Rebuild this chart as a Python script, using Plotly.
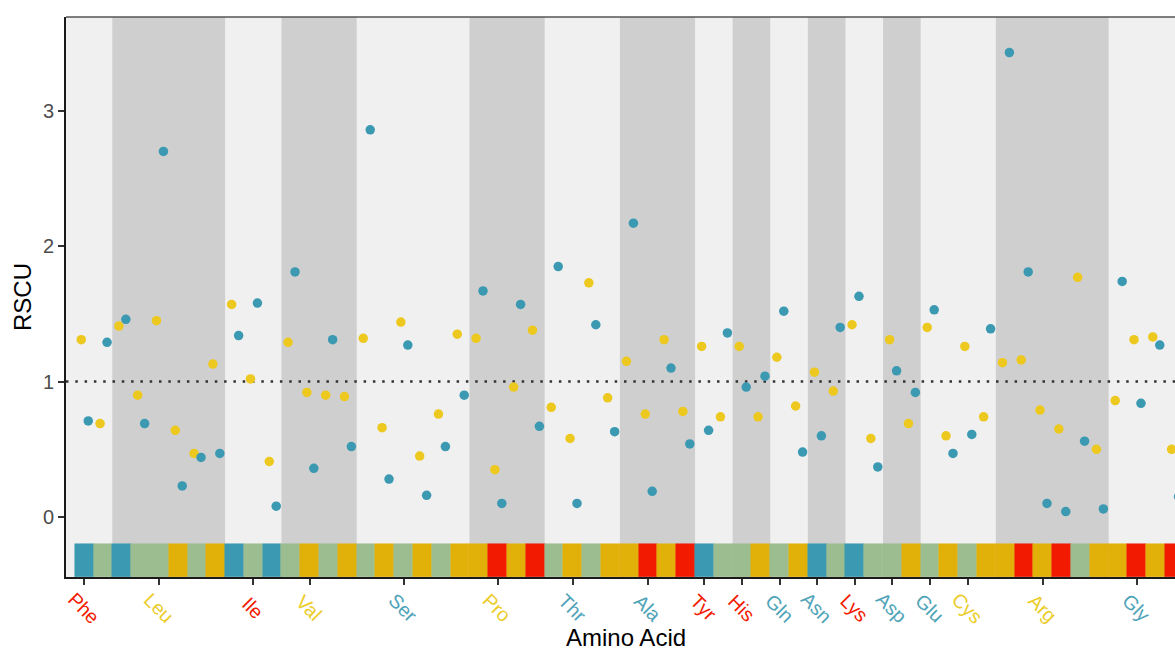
import numpy as np
import plotly.graph_objects as go

# ---------------- data ----------------
amino_acids = ["Phe", "Leu", "Ile", "Val", "Ser", "Pro", "Thr", "Ala", "Tyr",
               "His", "Gln", "Asn", "Lys", "Asp", "Glu", "Cys", "Arg", "Gly"]
codons_per_aa = [2, 6, 3, 4, 6, 4, 4, 4, 2, 2, 2, 2, 2, 2, 2, 2, 6, 4]
label_class = ["R", "Y", "R", "Y", "T", "Y", "T", "T", "R",
               "R", "T", "T", "R", "T", "T", "Y", "Y", "T"]
dark_band = [0, 1, 0, 1, 0, 1, 0, 1, 0, 1, 0, 1, 0, 1, 0, 0, 1, 0]

strip_class = ["T", "G", "T", "G", "G", "Y", "G", "Y", "T", "G",
               "T", "G", "Y", "G", "Y", "G", "Y", "G", "Y", "G",
               "Y", "Y", "R", "Y", "R", "G", "Y", "G", "Y", "Y",
               "R", "Y", "R", "T", "G", "G", "Y", "G", "Y", "T",
               "G", "T", "G", "G", "Y", "G", "Y", "G", "Y", "Y",
               "R", "Y", "R", "G", "Y", "Y", "R", "Y", "R"]

rscu_yellow = [1.31, 0.69,
               1.41, 0.90, 1.45, 0.64, 0.47, 1.13,
               1.57, 1.02, 0.41,
               1.29, 0.92, 0.90, 0.89,
               1.32, 0.66, 1.44, 0.45, 0.76, 1.35,
               1.32, 0.35, 0.96, 1.38,
               0.81, 0.58, 1.73, 0.88,
               1.15, 0.76, 1.31, 0.78,
               1.26, 0.74,
               1.26, 0.74,
               1.18, 0.82,
               1.07, 0.93,
               1.42, 0.58,
               1.31, 0.69,
               1.40, 0.60,
               1.26, 0.74,
               1.14, 1.16, 0.79, 0.65, 1.77, 0.50,
               0.86, 1.31, 1.33, 0.50]

rscu_teal = [0.71, 1.29,
             1.46, 0.69, 2.70, 0.23, 0.44, 0.47,
             1.34, 1.58, 0.08,
             1.81, 0.36, 1.31, 0.52,
             2.86, 0.28, 1.27, 0.16, 0.52, 0.90,
             1.67, 0.10, 1.57, 0.67,
             1.85, 0.10, 1.42, 0.63,
             2.17, 0.19, 1.10, 0.54,
             0.64, 1.36,
             0.96, 1.04,
             1.52, 0.48,
             0.60, 1.40,
             1.63, 0.37,
             1.08, 0.92,
             1.53, 0.47,
             0.61, 1.39,
             3.43, 1.81, 0.10, 0.04, 0.56, 0.06,
             1.74, 0.84, 1.27, 0.15]

y_ticks = [0, 1, 2, 3]

# ---------------- styles ----------------
TEAL = "#3B9AB2"
PT_YELLOW = "#EDC81F"
STRIP_COLORS = {"T": "#3B9AB2", "G": "#9CBD8F", "Y": "#E1B10A", "R": "#F21A00"}
LABEL_COLORS = {"T": "#4FA3B8", "Y": "#EBCC2A", "R": "#F21A00"}
LIGHT_BG = "#F0F0F0"
DARK_BG = "#CFCFCF"
FONT = "Liberation Sans, Arial, Helvetica, sans-serif"

starts = np.concatenate([[0], np.cumsum(codons_per_aa)[:-1]])
codon_idx = np.arange(len(rscu_yellow))
tick_pos = [int(s + int(np.ceil(n / 2)) - 1) for s, n in zip(starts, codons_per_aa)]

Y_LO, Y_HI = -0.443, 3.693
STRIP_TOP = -0.2
X_LO, X_HI = -0.963, 58.03

fig = go.Figure()

# colour strip at bottom
fig.add_trace(go.Bar(
    x=codon_idx, y=[STRIP_TOP - Y_LO] * len(codon_idx), base=Y_LO, width=1.0,
    marker=dict(color=[STRIP_COLORS[c] for c in strip_class],
                line=dict(color=[STRIP_COLORS[c] for c in strip_class], width=0.5)),
    showlegend=False, hoverinfo="skip"))

# points
fig.add_trace(go.Scatter(
    x=codon_idx - 0.15, y=rscu_yellow, mode="markers",
    marker=dict(color=PT_YELLOW, size=9.5, line=dict(width=0)),
    showlegend=False))
fig.add_trace(go.Scatter(
    x=codon_idx + 0.22, y=rscu_teal, mode="markers",
    marker=dict(color=TEAL, size=9.5, line=dict(width=0)),
    showlegend=False))

shapes = []
for s, n, d in zip(starts, codons_per_aa, dark_band):
    if d:
        shapes.append(dict(type="rect", xref="x", yref="paper",
                           x0=s - 0.5, x1=s + n - 0.5, y0=0, y1=1,
                           fillcolor=DARK_BG, line=dict(width=0), layer="below"))
shapes.append(dict(type="line", xref="paper", yref="y", x0=0, x1=1, y0=1, y1=1,
                   line=dict(color="#333333", width=2.5, dash="2.5px,6.8px"),
                   layer="below"))
shapes.append(dict(type="line", xref="paper", yref="paper", x0=0, x1=1, y0=1, y1=1,
                   line=dict(color="#555555", width=1.5)))

annotations = []
for name, cls, tp in zip(amino_acids, label_class, tick_pos):
    annotations.append(dict(x=tp, y=-0.0545, xref="x", yref="paper",
                            text=name, showarrow=False, textangle=45,
                            xanchor="center", yanchor="middle",
                            font=dict(family=FONT, size=19.5, color=LABEL_COLORS[cls])))
annotations.append(dict(x=0.505, y=-0.108, xref="paper", yref="paper",
                        text="Amino Acid", showarrow=False,
                        xanchor="center", yanchor="middle",
                        font=dict(family=FONT, size=24, color="black")))
annotations.append(dict(x=-0.0397, y=0.5, xref="paper", yref="paper",
                        text="RSCU", showarrow=False, textangle=-90,
                        xanchor="center", yanchor="middle",
                        font=dict(family=FONT, size=24, color="black")))

fig.update_layout(
    width=1175, height=652,
    margin=dict(l=66, r=0, t=17, b=75, pad=0),
    paper_bgcolor="white", plot_bgcolor=LIGHT_BG,
    shapes=shapes, annotations=annotations,
    bargap=0, showlegend=False,
    font=dict(family=FONT),
)
fig.update_xaxes(range=[X_LO, X_HI], showgrid=False, zeroline=False,
                 tickvals=tick_pos, ticktext=[""] * len(tick_pos),
                 ticks="outside", ticklen=6, tickwidth=1.5, tickcolor="#333333",
                 showline=True, linecolor="#1a1a1a", linewidth=2,
                 automargin=False, fixedrange=True)
fig.update_yaxes(range=[Y_LO, Y_HI], showgrid=False, zeroline=False,
                 tickvals=y_ticks, ticktext=[str(t) for t in y_ticks],
                 ticks="outside", ticklen=6, tickwidth=1.5, tickcolor="#333333",
                 tickfont=dict(family=FONT, size=20, color="#4D4D4D"),
                 showline=True, linecolor="#1a1a1a", linewidth=2,
                 automargin=False, fixedrange=True)

fig.write_html("out.html", config={"displayModeBar": False})
